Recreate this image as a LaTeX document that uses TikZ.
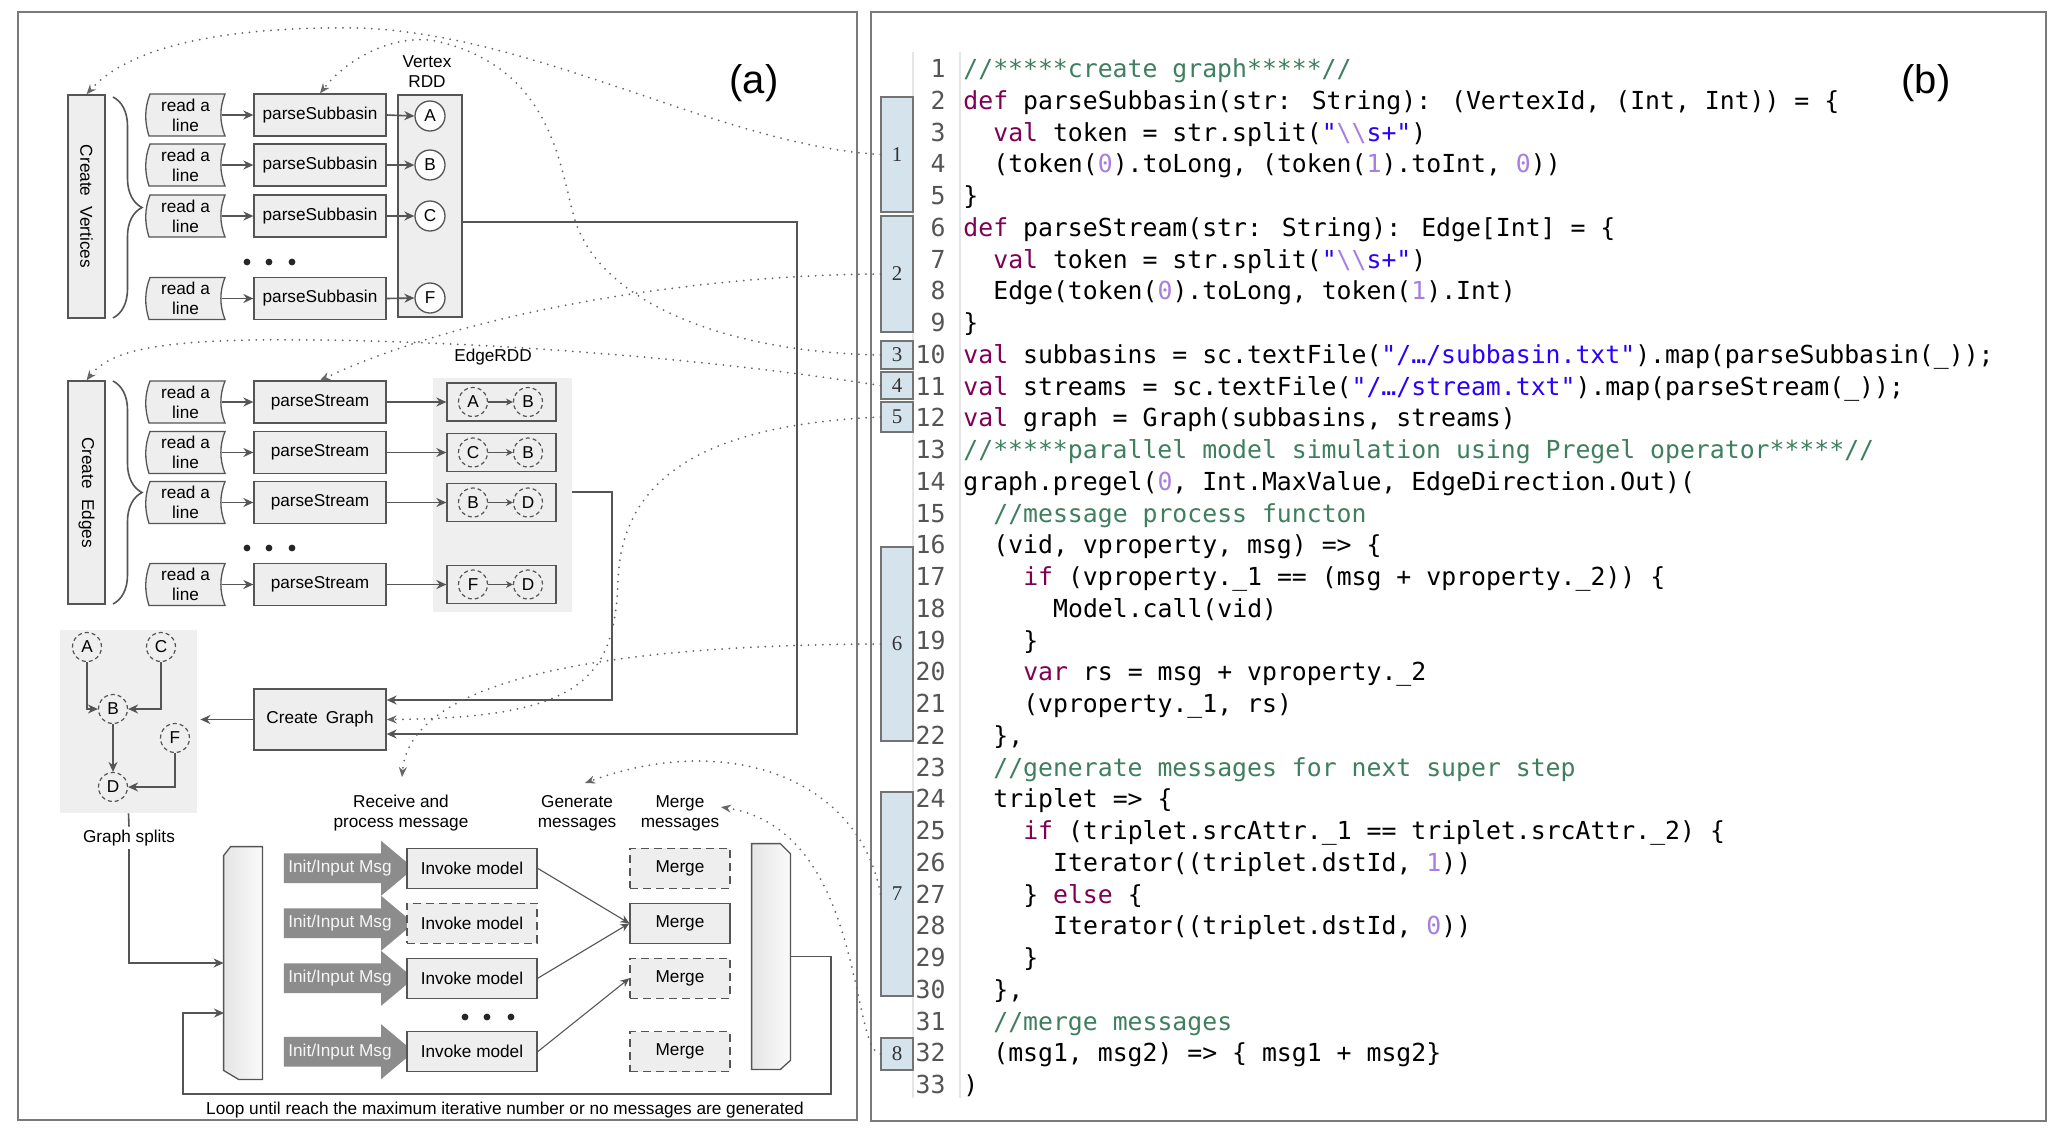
\documentclass[tikz,border=0pt]{standalone}
\usepackage{fontspec}
\setmainfont{Liberation Sans}
\newfontfamily\codefont{DejaVu Sans Mono}
\newfontfamily\boxnumfont{Liberation Serif}
\usetikzlibrary{arrows.meta,shapes.arrows,decorations.pathreplacing,calc}
\definecolor{lineg}{HTML}{555555}
\definecolor{boxfill}{HTML}{EEEEEE}
\definecolor{bgg}{HTML}{EFEFEF}
\definecolor{dotg}{HTML}{666666}
\definecolor{initg}{HTML}{8C8C8C}
\definecolor{framec}{HTML}{7A7A7A}
\definecolor{kwc}{HTML}{7F0055}
\definecolor{cmc}{HTML}{3F7F5F}
\definecolor{stc}{HTML}{2A00FF}
\definecolor{nmc}{HTML}{A77FE0}
\definecolor{lnc}{HTML}{555555}
\definecolor{cboxc}{HTML}{D5E3EC}
\newcommand\ckw[1]{\textcolor{kwc}{#1}}
\newcommand\ccm[1]{\textcolor{cmc}{#1}}
\newcommand\cst[1]{\textcolor{stc}{#1}}
\newcommand\cnm[1]{\textcolor{nmc}{#1}}
\newcommand\rdline[3]{%
  \filldraw[tapeshape] ({#2-35.5},{#3-21}) .. controls ({#2-41},{#3-7}) and ({#2-41},{#3+7}) .. ({#2-36.5},{#3+21}) -- ({#2+39.5},{#3+21}) .. controls ({#2+34},{#3+7}) and ({#2+34},{#3-7}) .. ({#2+39.5},{#3-21}) -- cycle;
  \node[rltext] (#1) at (#2,#3) {read a\\line};}
\newcommand\codeline[3]{%
  \node[codel] (ln#1) at (946,{77.5+(#1-1)*31.75}) {#1};
  \node[codet] (cd#1) at ({963+#2*14.96},{77.5+(#1-1)*31.75}) {#3};}
\begin{document}
\begin{tikzpicture}[x=0.5pt,y=-0.5pt,
  lbl/.style={font=\fontsize{8.6pt}{10pt}\selectfont},
  gbox/.style={draw=lineg, line width=0.65pt, fill=boxfill, inner sep=0pt, lbl},
  dbox/.style={gbox, dash pattern=on 4pt off 2.5pt},
  tapeshape/.style={draw=lineg, line width=0.65pt, fill=boxfill},
  rltext/.style={inner sep=0pt, minimum width=36pt, minimum height=21pt, align=center, lbl},
  conn/.style={draw=lineg, line width=0.8pt},
  arr/.style={conn, -{Stealth[length=5pt,width=4.5pt]}},
  sarr/.style={conn, line width=0.7pt, -{Stealth[length=3.5pt,width=3.5pt]}},
  thinarr/.style={conn, line width=0.55pt, -{Stealth[length=4.5pt,width=4pt]}},
  dotc/.style={draw=dotg, line width=1pt, dash pattern=on 0pt off 3.6pt, line cap=round, -{Stealth[length=5pt,width=4pt]}},
  vc/.style={circle, draw=lineg, line width=0.65pt, fill=white, minimum size=15pt, inner sep=0pt, lbl},
  dc/.style={circle, draw=lineg, line width=0.6pt, dash pattern=on 2pt off 1.5pt, minimum size=14.5pt, inner sep=0pt, lbl},
  bracedec/.style={draw=lineg, line width=0.8pt, decorate, decoration={brace, amplitude=14.5pt}},
  sidebarnode/.style={minimum width=19pt, inner sep=0pt},
  sidebarfill/.style={draw=lineg, line width=0.65pt, left color=black!10, right color=black!2},
  initarr/.style={single arrow, single arrow head extend=6.25pt, single arrow tip angle=80, single arrow head indent=0pt, minimum height=65pt, fill=initg, draw=none, text=white!94!gray, lbl, inner xsep=2pt, inner ysep=3.1pt, text height=6.4pt, text depth=1.9pt},
  cbox/.style={draw=black!55, line width=0.6pt, fill=cboxc, minimum width=16pt, inner sep=0pt, text=black!80, font=\boxnumfont\fontsize{10.5pt}{11pt}\selectfont},
  codel/.style={anchor=base east, inner sep=0pt, text=lnc, font=\codefont\fontsize{12.4pt}{14pt}\selectfont},
  codet/.style={anchor=base west, inner sep=0pt, font=\codefont\fontsize{12.4pt}{14pt}\selectfont},
  frame/.style={draw=framec, line width=0.8pt}
]
\useasboundingbox (0,0) rectangle (2067,1137);
\fill[white] (0,0) rectangle (2067,1137);
% panels
\draw[frame] (18,12) rectangle (857,1120);
\draw[frame] (871,12) rectangle (2046,1121);
\node[font=\fontsize{20pt}{24pt}\selectfont] (la) at (754,83) {(a)};
\node[font=\fontsize{20pt}{24pt}\selectfont] (lb) at (1926,83) {(b)};

% ---------- vertices ----------
\node[gbox, rotate=-90, minimum width=111.5pt, minimum height=18.5pt] (cv) at (86.5,206.5) {Create\hspace{0.6em}Vertices};
\draw[bracedec] (113,97) -- (113,318);
\rdline{rv1}{185.5}{115}
\rdline{rv2}{185.5}{165}
\rdline{rv3}{185.5}{216}
\rdline{rv4}{185.5}{298.5}
\node[gbox, minimum width=66pt, minimum height=21pt] (ps1) at (320,115) {parseSubbasin};
\node[gbox, minimum width=66pt, minimum height=21pt] (ps2) at (320,165) {parseSubbasin};
\node[gbox, minimum width=66pt, minimum height=21pt] (ps3) at (320,216) {parseSubbasin};
\node[gbox, minimum width=66pt, minimum height=21pt] (ps4) at (320,298.5) {parseSubbasin};
\node[gbox, minimum width=32pt, minimum height=111pt] (vrdd) at (430,206) {};
\node[lbl, align=center] (vrddlbl) at (427,72) {Vertex\\RDD};
\node[vc] (vA) at (430,116) {A};
\node[vc] (vB) at (430,165) {B};
\node[vc] (vC) at (430,216) {C};
\node[vc] (vF) at (430,298) {F};
\foreach \i/\c in {1/A,2/B,3/C,4/F}{
  \draw[arr] (rv\i.east) -- (ps\i.west);
  \draw[arr] (ps\i.east) -- (v\c.west);
}
\fill[black!85] (247,262) circle[radius=1.7pt] (269,262) circle[radius=1.7pt] (292,262) circle[radius=1.7pt];

% ---------- edges ----------
\node[fill=bgg, minimum width=69.5pt, minimum height=117pt, inner sep=0pt] (erdd) at (502.5,495) {};
\node[lbl] (erddlbl) at (493,357) {EdgeRDD};
\node[gbox, rotate=-90, minimum width=111.5pt, minimum height=18.5pt] (ce) at (86.5,492.5) {Create\hspace{0.6em}Edges};
\draw[bracedec] (113,381) -- (113,604);
\rdline{re1}{185.5}{402}
\rdline{re2}{185.5}{452.5}
\rdline{re3}{185.5}{502.5}
\rdline{re4}{185.5}{584.5}
\foreach \i/\y/\a/\b in {1/402/A/B,2/452.5/C/B,3/502.5/B/D,4/584.5/F/D}{
  \node[gbox, minimum width=66pt, minimum height=21pt] (pst\i) at (320,\y) {parseStream};
  \node[gbox, minimum width=54.5pt, minimum height=19pt] (eb\i) at (501.5,\y) {};
  \node[dc] (ea\i) at (473,\y) {\a};
  \node[dc] (ez\i) at (528,\y) {\b};
  \draw[sarr] (ea\i.east) -- (ez\i.west);
  \draw[arr] (re\i.east) -- (pst\i.west);
  \draw[arr] (pst\i.east) -- (eb\i.west);
}
\fill[black!85] (247,548) circle[radius=1.7pt] (269,548) circle[radius=1.7pt] (292,548) circle[radius=1.7pt];

% ---------- graph splits & create graph ----------
\node[fill=bgg, minimum width=68.5pt, minimum height=91.5pt, inner sep=0pt] (gsbg) at (128.5,721.5) {};
\node[dc] (gA) at (87,647) {A};
\node[dc] (gC) at (161,647) {C};
\node[dc] (gB) at (113,709) {B};
\node[dc] (gF) at (175,738) {F};
\node[dc] (gD) at (113,787) {D};
\draw[arr] (gA.south) |- (gB.west);
\draw[arr] (gC.south) |- (gB.east);
\draw[arr] (gB.south) -- (gD.north);
\draw[arr] (gF.south) |- (gD.east);
\node[lbl, fill=white, inner sep=1.5pt] (gslbl) at (129,838) {Graph splits};
\draw[conn] (gsbg.south) -- (gslbl.north);

\node[gbox, minimum width=66pt, minimum height=30.5pt] (cg) at (320,719.5) {Create\hspace{0.45em}Graph};
\draw[arr, shorten >=1.5pt] (cg.west) -- (cg.west -| gsbg.east);
\coordinate (vrout) at (463,222);
\coordinate (vrturn) at (797,734);
\draw[arr] (vrout) -| (vrturn) -- (vrturn -| cg.east);
\coordinate (erout) at (572,492);
\coordinate (erturn) at (612,700);
\draw[arr] (erout) -| (erturn) -- (erturn -| cg.east);

% ---------- pregel loop ----------
\node[lbl, align=center] (recv) at (401,813) {Receive and\\process message};
\node[lbl, align=center] (genm) at (577,813) {Generate\\messages};
\node[lbl, align=center] (mrgm) at (680,813) {Merge\\messages};
\coordinate (recvin) at (402,777);
\coordinate (genin) at (585,783);
\coordinate (mrgin) at (721,807);

\node[sidebarnode, minimum height=116pt] (lbar) at (243,963) {};
\path[sidebarfill] ([xshift=3.5pt]lbar.north west) -- (lbar.north east) -- (lbar.south east) -- ([xshift=7.5pt]lbar.south west) -- ([yshift=4.5pt]lbar.south west) -- ([yshift=-4.5pt]lbar.north west) -- cycle;
\node[sidebarnode, minimum height=112.5pt] (rbar) at (771,956.5) {};
\path[sidebarfill] (rbar.north west) -- ([xshift=-5pt]rbar.north east) -- ([yshift=-5pt]rbar.north east) -- ([yshift=4.5pt]rbar.south east) -- ([xshift=-5pt]rbar.south east) -- (rbar.south west) -- cycle;

\foreach \i/\y in {1/868.3,2/923.3,3/978.3,4/1051.7}{
  \node[initarr] (ia\i) at (340,\y) {Init/Input Msg};
}
\node[gbox, minimum width=65pt, minimum height=20pt] (im1) at (472,868.3) {Invoke model};
\node[dbox, minimum width=65pt, minimum height=20pt] (im2) at (472,923.3) {Invoke model};
\node[gbox, minimum width=65pt, minimum height=20pt] (im3) at (472,978.3) {Invoke model};
\node[gbox, minimum width=65pt, minimum height=20pt] (im4) at (472,1051.7) {Invoke model};
\node[dbox, minimum width=50pt, minimum height=20pt] (mg1) at (680,868.3) {Merge};
\node[gbox, minimum width=50pt, minimum height=20pt] (mg2) at (680,923.3) {Merge};
\node[dbox, minimum width=50pt, minimum height=20pt] (mg3) at (680,978.3) {Merge};
\node[dbox, minimum width=50pt, minimum height=20pt] (mg4) at (680,1051.7) {Merge};
\draw[thinarr] (im1.east) -- (mg2.west);
\draw[thinarr] (im3.east) -- (mg2.west);
\draw[thinarr] (im4.east) -- (mg3.west);
\fill[black!85] (465,1017) circle[radius=1.7pt] (487,1017) circle[radius=1.7pt] (511,1017) circle[radius=1.7pt];

\draw[arr] (gslbl.south) |- (lbar.west);
\coordinate (lpa) at (831,1094);
\coordinate (lpb) at (183,1094);
\coordinate (lbin) at (224,1013);
\draw[arr] (rbar.east) -| (lpa) -- (lpb) |- (lbin);
\node[lbl] (looptxt) at (505,1110) {Loop until reach the maximum iterative number or no messages are generated};

% ---------- code ----------
\draw[black!10, line width=0.6pt] (913,52) -- (913,1098);
\draw[black!10, line width=0.6pt] (960,52) -- (960,1098);
\node[cbox, minimum height=57.5pt] (b1) at (897,154.5) {1};
\node[cbox, minimum height=58pt] (b2) at (897,274) {2};
\node[cbox, minimum height=14pt] (b3) at (897,355) {3};
\node[cbox, minimum height=13.5pt] (b4) at (897,385.5) {4};
\node[cbox, minimum height=15pt] (b5) at (897,417) {5};
\node[cbox, minimum height=97pt] (b6) at (897,644) {6};
\node[cbox, minimum height=102pt] (b7) at (897,894) {7};
\node[cbox, minimum height=16pt] (b8) at (897,1054) {8};

\codeline{1}{0}{\ccm{//*****create graph*****//}}
\codeline{2}{0}{\ckw{def} parseSubbasin(str: String): (VertexId, (Int, Int)) = \{}
\codeline{3}{2}{\ckw{val} token = str.split(\cst{"}\cnm{\textbackslash\textbackslash}\cst{s+"})}
\codeline{4}{2}{(token(\cnm{0}).toLong, (token(\cnm{1}).toInt, \cnm{0}))}
\codeline{5}{0}{\}}
\codeline{6}{0}{\ckw{def} parseStream(str: String): Edge[Int] = \{}
\codeline{7}{2}{\ckw{val} token = str.split(\cst{"}\cnm{\textbackslash\textbackslash}\cst{s+"})}
\codeline{8}{2}{Edge(token(\cnm{0}).toLong, token(\cnm{1}).Int)}
\codeline{9}{0}{\}}
\codeline{10}{0}{\ckw{val} subbasins = sc.textFile(\cst{"/…/subbasin.txt"}).map(parseSubbasin(\_));}
\codeline{11}{0}{\ckw{val} streams = sc.textFile(\cst{"/…/stream.txt"}).map(parseStream(\_));}
\codeline{12}{0}{\ckw{val} graph = Graph(subbasins, streams)}
\codeline{13}{0}{\ccm{//*****parallel model simulation using Pregel operator*****//}}
\codeline{14}{0}{graph.pregel(\cnm{0}, Int.MaxValue, EdgeDirection.Out)(}
\codeline{15}{2}{\ccm{//message process functon}}
\codeline{16}{2}{(vid, vproperty, msg) => \{}
\codeline{17}{4}{\ckw{if} (vproperty.\_1 == (msg + vproperty.\_2)) \{}
\codeline{18}{6}{Model.call(vid)}
\codeline{19}{4}{\}}
\codeline{20}{4}{\ckw{var} rs = msg + vproperty.\_2}
\codeline{21}{4}{(vproperty.\_1, rs)}
\codeline{22}{2}{\},}
\codeline{23}{2}{\ccm{//generate messages for next super step}}
\codeline{24}{2}{triplet => \{}
\codeline{25}{4}{\ckw{if} (triplet.srcAttr.\_1 == triplet.srcAttr.\_2) \{}
\codeline{26}{6}{Iterator((triplet.dstId, \cnm{1}))}
\codeline{27}{4}{\} \ckw{else} \{}
\codeline{28}{6}{Iterator((triplet.dstId, \cnm{0}))}
\codeline{29}{4}{\}}
\codeline{30}{2}{\},}
\codeline{31}{2}{\ccm{//merge messages}}
\codeline{32}{2}{(msg1, msg2) => \{ msg1 + msg2\}}
\codeline{33}{0}{)}

% ---------- dotted links ----------
\draw[dotc] (b1.west) .. controls (720,145) and (540,35) .. (360,28) .. controls (230,26) and (130,45) .. (cv.west);
\draw[dotc] (b3.west) .. controls (720,352) and (600,300) .. (575,220) .. controls (560,172) and (555,70) .. (440,42) .. controls (400,32) and (350,55) .. (ps1.north);
\draw[dotc] (b2.west) .. controls (700,275) and (470,310) .. (pst1.north);
\draw[dotc] (b4.west) .. controls (650,350) and (400,338) .. (250,340) .. controls (160,342) and (110,350) .. (ce.west);
\draw[dotc] (b5.west) .. controls (700,425) and (622,480) .. (618,580) .. controls (615,680) and (580,718) .. (cg.east);
\draw[dotc] (b6.west) .. controls (600,645) and (410,680) .. (recvin);
\draw[dotc] (b7.west) .. controls (860,780) and (730,730) .. (genin);
\draw[dotc] (b8.west) .. controls (850,1050) and (865,830) .. (mrgin);
\end{tikzpicture}
\end{document}
